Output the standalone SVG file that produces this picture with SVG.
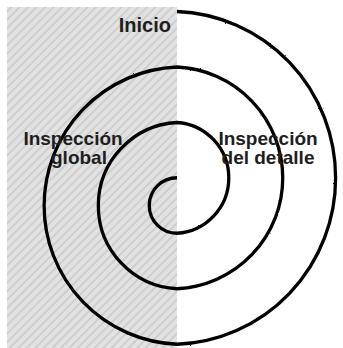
<svg xmlns="http://www.w3.org/2000/svg" width="343" height="348" viewBox="0 0 343 348">
  <style>
    .lbl { font-family: "Liberation Sans", Arial, sans-serif; font-weight: bold; font-size: 19px; fill: #1e1e1e; }
    .spiral { fill: none; stroke: #000; stroke-width: 3.3; stroke-linecap: butt; }
  </style>
  <defs>
    <pattern id="hatch" width="6" height="6" patternUnits="userSpaceOnUse" patternTransform="rotate(45)">
      <rect width="6" height="6" fill="#e2e2e2"/>
      <line x1="1" y1="0" x2="1" y2="6" stroke="#c9c9c9" stroke-width="1.6"/>
    </pattern>
    <filter id="rough" x="-5%" y="-5%" width="110%" height="110%">
      <feTurbulence type="fractalNoise" baseFrequency="0.6" numOctaves="1" seed="3" result="n"/>
      <feDisplacementMap in="SourceGraphic" in2="n" scale="1.8" xChannelSelector="R" yChannelSelector="G"/>
    </filter>
  </defs>
  <rect width="343" height="348" fill="#fff"/>
  <g id="global-area">
    <rect x="7" y="7" width="170" height="341" fill="url(#hatch)"/>
  </g>
  <g id="connectors">
    <path class="spiral" filter="url(#rough)" d="M177,177.75 A27.75,27.75 0 0 0 177,233.25 A55.5,55.5 0 0 0 177,122.5 A83.25,83.25 0 0 0 177,288.75 A111,111 0 0 0 177,67 A138.75,138.75 0 0 0 177,344.25 A165,166.5 0 0 0 177,11.5"/>
  </g>
  <g id="inicio">
    <text class="lbl" x="171" y="32" text-anchor="end" style="font-size:20px">Inicio</text>
  </g>
  <g id="inspeccion-global">
    <text class="lbl" x="73" y="145" text-anchor="middle">Inspección</text>
    <text class="lbl" x="79" y="164" text-anchor="middle">global</text>
  </g>
  <g id="inspeccion-detalle">
    <text class="lbl" x="268" y="145" text-anchor="middle">Inspección</text>
    <text class="lbl" x="268" y="164" text-anchor="middle">del detalle</text>
  </g>
</svg>
